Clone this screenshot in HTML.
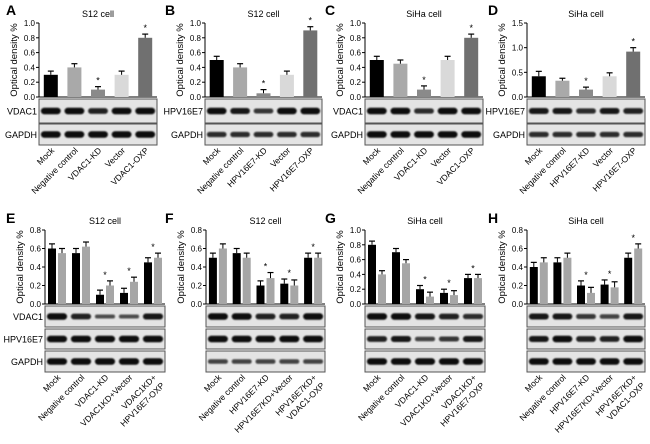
<!DOCTYPE html>
<html><head><meta charset="utf-8"><style>
html,body{margin:0;padding:0;background:#fff;}
svg{display:block;font-family:"Liberation Sans",sans-serif;}
</style></head><body>
<svg id="fig" width="650" height="444" viewBox="0 0 650 444" xmlns="http://www.w3.org/2000/svg">
<defs><filter id="bl" x="-20%" y="-100%" width="140%" height="300%"><feGaussianBlur stdDeviation="0.8"/></filter></defs>
</svg>
<script>
const NS="http://www.w3.org/2000/svg";
const svg=document.getElementById('fig');
// ---- data ----
const labelsA=["Mock","Negative control","VDAC1-KD","Vector","VDAC1-OXP"];
const labelsB=["Mock","Negative control","HPV16E7-KD","Vector","HPV16E7-OXP"];
const labelsE=["Mock","Negative control","VDAC1-KD","VDAC1KD+Vector","VDAC1KD+|HPV16E7-OXP"];
const labelsF=["Mock","Negative control","HPV16E7-KD","HPV16E7KD+Vector","HPV16E7KD+|VDAC1-OXP"];
const valsA=[0.3,0.4,0.1,0.3,0.8]; const errA=[0.05,0.05,0.04,0.05,0.05];
const valsB=[0.5,0.4,0.05,0.3,0.9]; const errB=[0.05,0.05,0.05,0.05,0.05];
const valsC=[0.5,0.45,0.1,0.5,0.8]; const errC=[0.05,0.05,0.05,0.05,0.05];
const valsD=[0.42,0.33,0.15,0.42,0.92]; const errD=[0.1,0.05,0.05,0.07,0.08];
const blackE=[0.6,0.55,0.1,0.12,0.45]; const grayE=[0.55,0.62,0.2,0.24,0.5];
const blackF=[0.5,0.55,0.2,0.22,0.5]; const grayF=[0.6,0.5,0.28,0.2,0.5];
const blackG=[0.8,0.7,0.2,0.15,0.35]; const grayG=[0.4,0.55,0.1,0.12,0.35];
const blackH=[0.4,0.45,0.2,0.21,0.5]; const grayH=[0.45,0.5,0.12,0.18,0.6];
const ticks1=[0,0.2,0.4,0.6,0.8,1.0];
const ticksD=[0,0.5,1.0,1.5];
const ticks08=[0,0.2,0.4,0.6,0.8];
const colors5=["#000","#a9a9a9","#8a8a8a","#d9d9d9","#707070"];

function el(tag,attrs,parent){const e=document.createElementNS(NS,tag);for(const k in attrs)e.setAttribute(k,attrs[k]);(parent||svg).appendChild(e);return e;}
function txt(s,attrs,parent){const t=el('text',attrs,parent);t.textContent=s;return t;}

function panel(o){
  const g=el('g',{});
  
  
  const x0=o.x0,x1=o.x1,yb=o.yb,yt=o.yt,tmax=o.ticks[o.ticks.length-1];
  const Y=v=>yb-(v/tmax)*(yb-yt);
  const L=txt(o.letter,{x:o.lx,y:o.ly,'font-size':14,'font-weight':'bold'},g);
   
  const T=txt(o.title,{x:(x0+x1)/2,y:o.ty,'font-size':9,'text-anchor':'middle'},g);
   
  el('line',{x1:x0,y1:yt,x2:x0,y2:yb,stroke:'#000','stroke-width':1},g);
  el('line',{x1:x0,y1:yb,x2:x1,y2:yb,stroke:'#000','stroke-width':1},g);
  o.ticks.forEach(t=>{
    el('line',{x1:x0-3,y1:Y(t),x2:x0,y2:Y(t),stroke:'#000'},g);
    const tl=txt(t.toFixed(1),{x:x0-4,y:Y(t)+3,'font-size':8,'text-anchor':'end'},g);
     
  });
  const yt2=txt('Optical density %',{x:0,y:0,'font-size':9.5,'text-anchor':'middle',transform:`translate(${x0-22},${(yt+yb)/2}) rotate(-90)`},g);
   
  const n=5,lw=(x1-x0)/n;
  const cx=i=>x0+lw*(i+0.5);
  function bar(x,w,v,e,c){
    const b=el('rect',{x:x,y:Y(v),width:w,height:yb-Y(v),fill:c},g);
     
    const m=x+w/2;
    el('line',{x1:m,y1:Y(v),x2:m,y2:Y(v+e),stroke:'#000'},g);
    el('line',{x1:m-3,y1:Y(v+e),x2:m+3,y2:Y(v+e),stroke:'#000','stroke-width':1.2},g);
    return Y(v+e);
  }
  for(let i=0;i<n;i++){
    let top;
    if(o.single){
      top=bar(cx(i)-7,14,o.single[i],o.err[i],colors5[i]);
    } else {
      const a=bar(cx(i)-9,8,o.black[i],0.05,'#000');
      const b=bar(cx(i)+1,8,o.gray[i],o.gray[i]<0.3&&o.letter!='E'?0.06:0.05,'#a6a6a6');
      top=Math.min(a,b);
    }
    if(o.stars.includes(i)){
      const s=txt('*',{x:cx(i),y:top-3,'font-size':9,'text-anchor':'middle'},g);
       
    }
  }
  o.rows.forEach((r,ri)=>{
    const bx=el('rect',{x:x0,y:r[0],width:x1-x0,height:r[1]-r[0],fill:'#e4e4e4',stroke:'#555','stroke-width':1},g);
     
    const mid=(r[0]+r[1])/2;
    const ints=o.bands[ri];
    for(let i=0;i<n;i++){
      const h=2.5+ints[i]*4;
      const bd=el('rect',{x:cx(i)-lw*0.42,y:mid-h/2,width:lw*0.84,height:h,rx:h/2,fill:'#0a0a0a',opacity:0.5+ints[i]*0.5,filter:'url(#bl)'},g);
       
    }
    if(o.rowLabels&&o.rowLabels[ri]){
      const rl=txt(o.rowLabels[ri],{x:x0-2,y:mid+3.5,'font-size':9,'text-anchor':'end'},g);
       
    }
  });
  const lb=o.rows[o.rows.length-1][1]+6;
  o.labels.forEach((s,i)=>{
    const parts=s.split('|');
    parts.forEach((p,k)=>{
      const xl=txt(p,{x:0,y:0,'font-size':8.5,'text-anchor':'end',transform:`translate(${cx(i)+4+k*8},${lb+k*8}) rotate(-45)`},g);
       
    });
  });
}
const topRows=[[99,123],[124,145]];
const botRows=[[306,327],[329,349],[351,372]];
const full=[1,1,1,1,1];
panel({letter:'A',lx:6,ly:15,title:'S12 cell',ty:17,x0:39,x1:157,yb:97,yt:23,ticks:ticks1,single:valsA,err:errA,stars:[2,4],rows:topRows,rowLabels:['VDAC1','GAPDH'],bands:[[1,1,0.8,1,1],full],labels:labelsA});
panel({letter:'B',lx:165,ly:15,title:'S12 cell',ty:17,x0:205,x1:322,yb:97,yt:23,ticks:ticks1,single:valsB,err:errB,stars:[2,4],rows:topRows,rowLabels:['HPV16E7','GAPDH'],bands:[[1,0.9,0.6,1,1],[0.7,0.7,0.7,0.7,0.7]],labels:labelsB});
panel({letter:'C',lx:325,ly:15,title:'SiHa cell',ty:17,x0:365,x1:483,yb:97,yt:23,ticks:ticks1,single:valsC,err:errC,stars:[2,4],rows:topRows,rowLabels:['VDAC1','GAPDH'],bands:[[1,1,0.7,1,1],full],labels:labelsA});
panel({letter:'D',lx:488,ly:15,title:'SiHa cell',ty:17,x0:527,x1:645,yb:97,yt:23,ticks:ticksD,single:valsD,err:errD,stars:[2,4],rows:topRows,rowLabels:['HPV16E7','GAPDH'],bands:[[0.9,0.9,0.7,0.9,0.8],[0.7,0.7,0.7,0.7,0.7]],labels:labelsB});
panel({letter:'E',lx:6,ly:223,title:'S12 cell',ty:224,x0:45,x1:165,yb:304,yt:230,ticks:ticks08,black:blackE,gray:grayE,stars:[2,3,4],rows:botRows,rowLabels:['VDAC1','HPV16E7','GAPDH'],bands:[[1,0.8,0.4,0.4,0.9],full,full],labels:labelsE});
panel({letter:'F',lx:165,ly:223,title:'S12 cell',ty:224,x0:206,x1:325,yb:304,yt:230,ticks:ticks08,black:blackF,gray:grayF,stars:[2,3,4],rows:botRows,bands:[[1,1,0.8,0.8,1],full,[0.5,0.5,0.5,0.5,0.5]],labels:labelsF});
panel({letter:'G',lx:325,ly:223,title:'SiHa cell',ty:224,x0:365,x1:485,yb:304,yt:230,ticks:ticks1,black:blackG,gray:grayG,stars:[2,3,4],rows:botRows,bands:[[1,1,0.9,0.8,0.7],[0.8,0.9,0.5,0.6,0.9],full],labels:labelsE});
panel({letter:'H',lx:488,ly:223,title:'SiHa cell',ty:224,x0:527,x1:645,yb:304,yt:230,ticks:ticks08,black:blackH,gray:grayH,stars:[2,3,4],rows:botRows,bands:[[0.9,0.9,0.6,0.5,0.9],[0.9,1,0.8,0.8,1],full],labels:labelsF});
</script>
</body></html>
